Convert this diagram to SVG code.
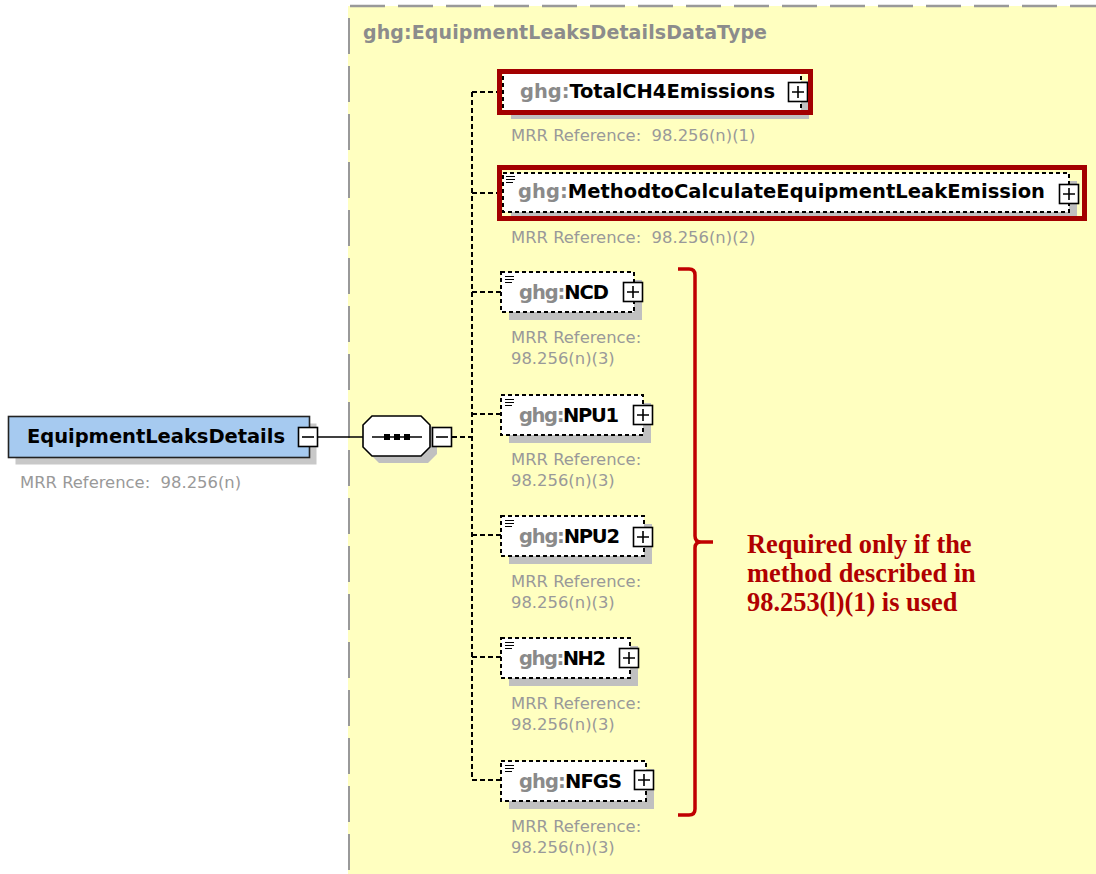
<svg xmlns="http://www.w3.org/2000/svg" width="1096" height="874" viewBox="0 0 1096 874">
<defs>
<style>
.lbl{font-family:"DejaVu Sans",Verdana,sans-serif;font-weight:bold;font-size:19.5px;fill:#000}
.pfx{fill:#8a8a8a}
.mrr{font-family:"DejaVu Sans",Verdana,sans-serif;font-size:16.4px;fill:#999}
.ttl{font-family:"DejaVu Sans",Verdana,sans-serif;font-weight:bold;font-size:19px;fill:#8c8c8c}
.box{fill:#fff;stroke:#000;stroke-width:2;stroke-dasharray:4 3}
.shd{fill:#c0c0c0}
.pm{fill:#fff;stroke:#000;stroke-width:1.6}
.pml{stroke:#000;stroke-width:1.6;fill:none}
.red{fill:none;stroke:#a30000;stroke-width:5}
.dl{stroke:#000;stroke-width:2;stroke-dasharray:5 3;fill:none}
.icon{stroke:#000;stroke-width:1.2}
.note{font-family:"Liberation Serif","Times New Roman",serif;font-weight:bold;font-size:26.4px;fill:#b00000}
</style>
</defs>

<!-- yellow type panel -->
<g id="panel">
<rect x="348" y="6" width="748" height="868" fill="#ffffc0"/>
<line x1="350" y1="6" x2="1096" y2="6" stroke="#999" stroke-width="2.5" stroke-dasharray="35 13"/>
<line x1="349" y1="18" x2="349" y2="874" stroke="#999" stroke-width="2" stroke-dasharray="36 12"/>
<text class="ttl" x="363" y="39" textLength="404"><tspan>ghg:EquipmentLeaksDetailsDataType</tspan></text>
</g>

<!-- connectors -->
<g id="connectors">
<line x1="318" y1="437" x2="363" y2="437" stroke="#000" stroke-width="1.6"/>
<line class="dl" x1="452" y1="437" x2="472" y2="437"/>
<line class="dl" x1="472" y1="92" x2="472" y2="780"/>
<line class="dl" x1="472" y1="92" x2="503" y2="92"/>
<line class="dl" x1="472" y1="193" x2="503" y2="193"/>
<line class="dl" x1="472" y1="292" x2="501" y2="292"/>
<line class="dl" x1="472" y1="414" x2="501" y2="414"/>
<line class="dl" x1="472" y1="535" x2="501" y2="535"/>
<line class="dl" x1="472" y1="657" x2="501" y2="657"/>
<line class="dl" x1="472" y1="780" x2="501" y2="780"/>
</g>

<!-- root element -->
<g id="EquipmentLeaksDetails">
<rect x="15.5" y="423.5" width="301" height="41" fill="#c8c8c8"/>
<rect x="8.5" y="416.5" width="301" height="41" fill="#a6caf0" stroke="#222" stroke-width="1.6"/>
<text class="lbl" x="27" y="443" textLength="258">EquipmentLeaksDetails</text>
<rect class="pm" x="298.5" y="427.5" width="19" height="19"/>
<line class="pml" x1="302" y1="437" x2="314" y2="437"/>
<text class="mrr" x="20" y="488">MRR Reference:&#160; 98.256(n)</text>
</g>

<!-- sequence compositor -->
<g id="sequence">
<polygon points="379,423 428,423 437,432 437,454 428,463 379,463 370,454 370,432" fill="#c0c0c0"/>
<polygon points="372,416 421,416 430,425 430,447 421,456 372,456 363,447 363,425" fill="#fff" stroke="#000" stroke-width="1.6"/>
<line x1="372" y1="437" x2="422" y2="437" stroke="#000" stroke-width="1.6"/>
<rect x="384" y="434" width="6" height="6" fill="#000"/>
<rect x="394" y="434" width="6" height="6" fill="#000"/>
<rect x="404" y="434" width="6" height="6" fill="#000"/>
<rect class="pm" x="432.5" y="427.5" width="19" height="19"/>
<line class="pml" x1="436" y1="437" x2="448" y2="437"/>
</g>

<!-- TotalCH4Emissions -->
<g id="TotalCH4Emissions">
<rect class="shd" x="511" y="81" width="298" height="38"/>
<rect class="box" x="503" y="73" width="298" height="38"/>
<text class="lbl" x="520" y="98" textLength="255"><tspan class="pfx">ghg:</tspan>TotalCH4Emissions</text>
<rect class="pm" x="788.5" y="82.5" width="19" height="19"/>
<path class="pml" d="M792 92 H804 M798 86 V98"/>
<rect class="red" x="499.5" y="71.5" width="311" height="41"/>
<text class="mrr" x="511" y="141">MRR Reference:&#160; 98.256(n)(1)</text>
</g>

<!-- MethodtoCalculateEquipmentLeakEmission -->
<g id="MethodtoCalculateEquipmentLeakEmission">
<rect class="shd" x="511" y="181" width="566" height="39"/>
<rect class="box" x="503" y="173" width="566" height="39"/>
<path class="icon" d="M506 176.5 H515 M506 179.5 H515 M506 182.5 H513"/>
<text class="lbl" x="518" y="198" textLength="527"><tspan class="pfx">ghg:</tspan>MethodtoCalculateEquipmentLeakEmission</text>
<rect class="pm" x="1059.5" y="184.5" width="19" height="19"/>
<path class="pml" d="M1063 194 H1075 M1069 188 V200"/>
<rect class="red" x="499.5" y="167.5" width="585" height="51"/>
<text class="mrr" x="511" y="243">MRR Reference:&#160; 98.256(n)(2)</text>
</g>

<!-- NCD -->
<g id="NCD">
<rect class="shd" x="509" y="280" width="133" height="40"/>
<rect class="box" x="501" y="272" width="133" height="40"/>
<path class="icon" d="M505 276.5 H514 M505 279.5 H514 M505 282.5 H512"/>
<text class="lbl" x="519" y="298.5" textLength="90"><tspan class="pfx">ghg:</tspan>NCD</text>
<rect class="pm" x="623.5" y="282.5" width="19" height="19"/>
<path class="pml" d="M627 292 H639 M633 286 V298"/>
<text class="mrr" x="511" y="343">MRR Reference:</text>
<text class="mrr" x="511" y="364">98.256(n)(3)</text>
</g>

<!-- NPU1 -->
<g id="NPU1">
<rect class="shd" x="509" y="403" width="142" height="40"/>
<rect class="box" x="501" y="395" width="142" height="40"/>
<path class="icon" d="M505 399.5 H514 M505 402.5 H514 M505 405.5 H512"/>
<text class="lbl" x="519" y="421.5" textLength="100"><tspan class="pfx">ghg:</tspan>NPU1</text>
<rect class="pm" x="633.5" y="405.5" width="19" height="19"/>
<path class="pml" d="M637 415 H649 M643 409 V421"/>
<text class="mrr" x="511" y="465">MRR Reference:</text>
<text class="mrr" x="511" y="486">98.256(n)(3)</text>
</g>

<!-- NPU2 -->
<g id="NPU2">
<rect class="shd" x="509" y="524" width="143" height="40"/>
<rect class="box" x="501" y="516" width="143" height="40"/>
<path class="icon" d="M505 520.5 H514 M505 523.5 H514 M505 526.5 H512"/>
<text class="lbl" x="519" y="543" textLength="101"><tspan class="pfx">ghg:</tspan>NPU2</text>
<rect class="pm" x="633.5" y="527.5" width="19" height="19"/>
<path class="pml" d="M637 537 H649 M643 531 V543"/>
<text class="mrr" x="511" y="587">MRR Reference:</text>
<text class="mrr" x="511" y="608">98.256(n)(3)</text>
</g>

<!-- NH2 -->
<g id="NH2">
<rect class="shd" x="509" y="646" width="129" height="40"/>
<rect class="box" x="501" y="638" width="129" height="40"/>
<path class="icon" d="M505 642.5 H514 M505 645.5 H514 M505 648.5 H512"/>
<text class="lbl" x="519" y="665" textLength="87"><tspan class="pfx">ghg:</tspan>NH2</text>
<rect class="pm" x="619.5" y="648.5" width="19" height="19"/>
<path class="pml" d="M623 658 H635 M629 652 V664"/>
<text class="mrr" x="511" y="709">MRR Reference:</text>
<text class="mrr" x="511" y="730">98.256(n)(3)</text>
</g>

<!-- NFGS -->
<g id="NFGS">
<rect class="shd" x="509" y="769" width="145" height="40"/>
<rect class="box" x="501" y="761" width="145" height="40"/>
<path class="icon" d="M505 765.5 H514 M505 768.5 H514 M505 771.5 H512"/>
<text class="lbl" x="519" y="788" textLength="103"><tspan class="pfx">ghg:</tspan>NFGS</text>
<rect class="pm" x="634.5" y="770.5" width="19" height="19"/>
<path class="pml" d="M638 780 H650 M644 774 V786"/>
<text class="mrr" x="511" y="832">MRR Reference:</text>
<text class="mrr" x="511" y="853">98.256(n)(3)</text>
</g>

<!-- bracket and note -->
<g id="note">
<path d="M678 269 H689 Q695 269 695 275 V536 Q695 542 701 542 H713 M701 542 Q695 542 695 548 V809 Q695 815 689 815 H678" fill="none" stroke="#c00000" stroke-width="3.5" stroke-linejoin="round"/>
<text class="note" x="747" y="553">Required only if the</text>
<text class="note" x="747" y="582">method described in</text>
<text class="note" x="747" y="611">98.253(l)(1) is used</text>
</g>
</svg>
